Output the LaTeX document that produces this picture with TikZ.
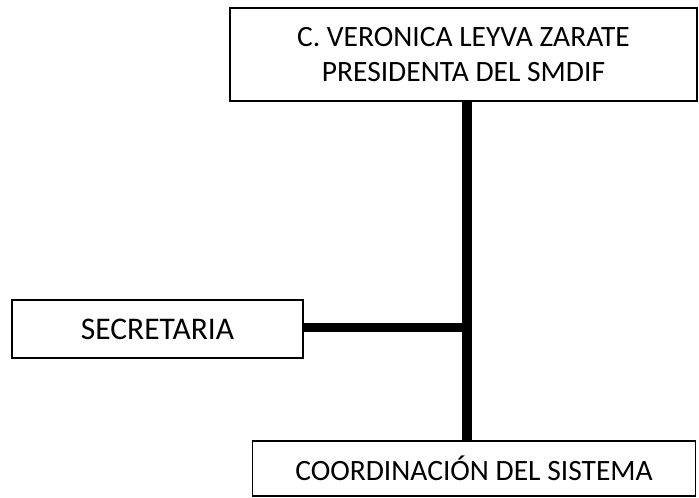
\documentclass[tikz,border=0pt]{standalone}
\usepackage{fontspec}
\setmainfont{Carlito}
\usetikzlibrary{positioning}

\tikzset{
  box/.style={draw, line width=1.4pt, rectangle, inner sep=0pt, align=center,
    font=\fontsize{29.5}{35}\selectfont},
  link/.style={line width=9.5pt}
}

\begin{document}
\begin{tikzpicture}[x=1pt, y=-1pt]
  \useasboundingbox (0,0) rectangle (699,498);

  % Boxes of the chart
  \node[box, minimum width=467pt, minimum height=93pt] (presidenta) at (463.5,54.5)
    {C. VERONICA LEYVA ZARATE\\PRESIDENTA DEL SMDIF};
  \node[box, minimum width=291pt, minimum height=58pt, font=\fontsize{31.5}{35}\selectfont]
    (secretaria) at (157.5,329) {SECRETARIA};
  \node[box, minimum width=443pt, minimum height=55pt]
    (coordinacion) at (474,468.5) {COORDINACI\'ON DEL SISTEMA};

  % Junction on the main line
  \coordinate (junction) at (467,327.5);

  % Connectors
  \draw[link] (presidenta.south -| junction) -- (coordinacion.north -| junction);
  \draw[link] (secretaria.east |- junction) -- ([xshift=5pt]junction);

\end{tikzpicture}
\end{document}
